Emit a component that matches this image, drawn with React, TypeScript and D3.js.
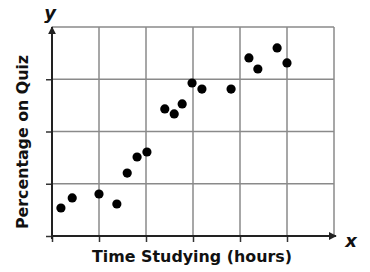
import React, { useEffect, useRef } from 'react';
import * as d3 from 'd3';

// hours studied vs quiz percentage
const hours = [0.19, 0.43, 1.0, 1.38, 1.6, 1.81, 2.02, 2.4, 2.6, 2.77, 2.98, 3.19, 3.81, 4.19, 4.38, 4.79, 5.0];
const scores = [13.4, 18.2, 20.1, 15.3, 30.1, 37.8, 40.2, 60.8, 58.4, 63.2, 73.2, 70.3, 70.3, 85.2, 79.9, 90.0, 82.8];
const xTicks = [0, 1, 2, 3, 4, 5];
const xGrid = [1, 2, 3, 4, 5, 6];
const yTicks = [0, 25, 50, 75];
const yGrid = [25, 50, 75, 100];

const App = () => {
  const ref = useRef<SVGSVGElement>(null);

  useEffect(() => {
    const svg = d3.select(ref.current);
    svg.selectAll('*').remove();

    const x = d3.scaleLinear().domain([0, 6]).range([52, 334]);
    const y = d3.scaleLinear().domain([0, 100]).range([236, 27]);

    // grid
    svg.append('g')
      .selectAll('line')
      .data(xGrid)
      .enter()
      .append('line')
      .attr('x1', d => x(d)).attr('x2', d => x(d))
      .attr('y1', y(100)).attr('y2', y(0))
      .attr('stroke', '#8a8a8a')
      .attr('stroke-width', 1.5);

    svg.append('g')
      .selectAll('line')
      .data(yGrid)
      .enter()
      .append('line')
      .attr('x1', x(0)).attr('x2', x(6))
      .attr('y1', d => y(d)).attr('y2', d => y(d))
      .attr('stroke', '#8a8a8a')
      .attr('stroke-width', 1.5);

    // arrow marker
    const defs = svg.append('defs');
    defs.append('marker')
      .attr('id', 'arr')
      .attr('viewBox', '0 0 10 10')
      .attr('refX', 9).attr('refY', 5)
      .attr('markerWidth', 8).attr('markerHeight', 8)
      .attr('markerUnits', 'userSpaceOnUse')
      .attr('orient', 'auto')
      .append('path')
      .attr('d', 'M0,0 L10,5 L0,10 Z')
      .attr('fill', '#222');

    // axes with ticks
    const xAxis = d3.axisBottom(x).tickValues(xTicks).tickSize(6).tickFormat(() => '');
    const gx = svg.append('g').attr('transform', `translate(0,${y(0)})`).call(xAxis);
    gx.select('.domain').remove();
    gx.selectAll('line').attr('stroke', '#333').attr('stroke-width', 1.5);

    const yAxis = d3.axisLeft(y).tickValues(yTicks).tickSize(6).tickFormat(() => '');
    const gy = svg.append('g').attr('transform', `translate(${x(0)},0)`).call(yAxis);
    gy.select('.domain').remove();
    gy.selectAll('line').attr('stroke', '#333').attr('stroke-width', 1.5);

    svg.append('line')
      .attr('x1', x(0)).attr('x2', x(6) + 2)
      .attr('y1', y(0)).attr('y2', y(0))
      .attr('stroke', '#222').attr('stroke-width', 2)
      .attr('marker-end', 'url(#arr)');

    svg.append('line')
      .attr('x1', x(0)).attr('x2', x(0))
      .attr('y1', y(0) + 3).attr('y2', y(100))
      .attr('stroke', '#222').attr('stroke-width', 2)
      .attr('marker-end', 'url(#arr)');

    // points
    svg.append('g')
      .selectAll('circle')
      .data(hours.map((h, i) => ({ h, s: scores[i] })))
      .enter()
      .append('circle')
      .attr('cx', d => x(d.h))
      .attr('cy', d => y(d.s))
      .attr('r', 4.6)
      .attr('fill', '#000');

    // labels
    svg.append('text')
      .attr('x', 192).attr('y', 262)
      .attr('text-anchor', 'middle')
      .attr('font-family', 'DejaVu Sans')
      .attr('font-weight', 'bold')
      .attr('font-size', 15)
      .attr('textLength', 200)
      .attr('lengthAdjust', 'spacingAndGlyphs')
      .attr('fill', '#111')
      .text('Time Studying (hours)');

    svg.append('text')
      .attr('transform', 'translate(28,142) rotate(-90)')
      .attr('text-anchor', 'middle')
      .attr('font-family', 'DejaVu Sans')
      .attr('font-weight', 'bold')
      .attr('font-size', 15)
      .attr('textLength', 174)
      .attr('lengthAdjust', 'spacingAndGlyphs')
      .attr('fill', '#111')
      .text('Percentage on Quiz');

    svg.append('text')
      .attr('x', 50).attr('y', 19)
      .attr('text-anchor', 'middle')
      .attr('font-family', 'DejaVu Sans')
      .attr('font-style', 'italic')
      .attr('font-weight', 'bold')
      .attr('font-size', 18)
      .attr('fill', '#111')
      .text('y');

    svg.append('text')
      .attr('x', 351).attr('y', 247)
      .attr('text-anchor', 'middle')
      .attr('font-family', 'DejaVu Sans')
      .attr('font-style', 'italic')
      .attr('font-weight', 'bold')
      .attr('font-size', 18)
      .attr('fill', '#111')
      .text('x');
  }, []);

  return (
    <svg ref={ref} width={370} height={272}
      style={{ position: 'absolute', left: 0, top: 0, background: '#fff' }} />
  );
};

export default App;
